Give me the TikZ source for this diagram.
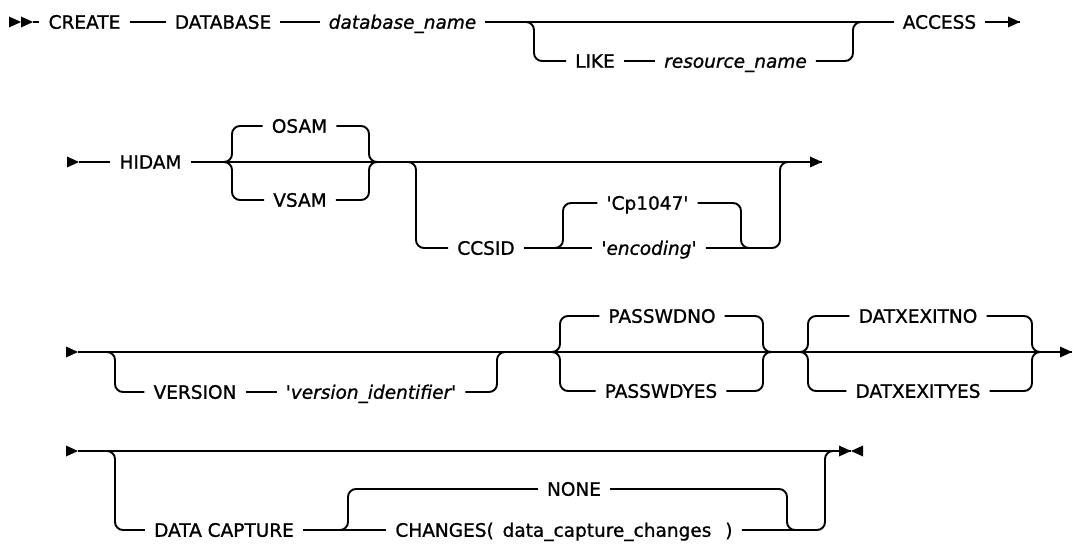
\documentclass[tikz,border=0pt]{standalone}
\usepackage{fontspec}
\newfontfamily\rrfont{DejaVu Sans}[FakeBold=1]
\newcommand\mkR[1]{\fill (#1) -- ++(-12,-5.5) -- ++(0,11) -- cycle;}
\newcommand\mkL[1]{\fill (#1) -- ++(12,-5.5) -- ++(0,11) -- cycle;}
\tikzset{
  rr/.style={line width=1.9pt},
  rc/.style={line width=1.9pt, rounded corners=8pt},
  kw/.style={inner xsep=9pt, inner ysep=0pt, text height=13.5pt, text depth=0pt,
    font=\rrfont\fontsize{18.5}{22}\selectfont},
  var/.style={kw, font=\rrfont\itshape\fontsize{18.5}{22}\selectfont},
}
\begin{document}
\begin{tikzpicture}[x=1pt,y=-1pt]
\useasboundingbox[fill=white] (0,0) rectangle (1073,545);
% ---------------- row 1
\coordinate (s1a) at (21,22);
\coordinate (s1b) at (33,22);
\coordinate (en1) at (1020,22);
\coordinate (j1L) at (526,22);
\coordinate (j1R) at (861,22);
\node[kw]  (create)   at (84.5,22)  {CREATE};
\node[kw]  (database) at (223,22)   {DATABASE};
\node[var] (dbname)   at (402.5,22) {database\_name};
\node[kw]  (like)     at (595,61)   {LIKE};
\node[var] (resname)  at (735.5,61) {resource\_name};
\node[kw]  (access)   at (939.5,22) {ACCESS};
\mkR{s1a}\mkR{s1b}
\draw[rr] (s1b) -- (create.west);
\draw[rr] (create) -- (database);
\draw[rr] (database) -- (dbname);
\draw[rr] (dbname.east) -- (access.west);
\draw[rc] (j1L) -- ++(8,0) |- (like.west);
\draw[rr] (like) -- (resname);
\draw[rc] (j1R) -- ++(-8,0) |- (resname.east);
\draw[rr] (access.east) -- (en1);
\mkR{en1}
% ---------------- row 2
\coordinate (st2) at (79,162);
\coordinate (en2) at (822,162);
\coordinate (j2a) at (224,162);
\coordinate (j2b) at (377,162);
\coordinate (j2c) at (408,162);
\coordinate (j2d) at (555,248);
\coordinate (j2e) at (749,248);
\coordinate (j2f) at (788,162);
\node[kw]  (hidam) at (150.5,162) {HIDAM};
\node[kw]  (osam)  at (299.5,126) {OSAM};
\node[kw]  (vsam)  at (300,200)   {VSAM};
\node[kw]  (ccsid) at (486,248)   {CCSID};
\node[kw]  (cp)    at (647.5,203) {'Cp1047'};
\node[var] (enc)   at (649,248)   {'encoding'};
\mkR{st2}
\draw[rr] (st2) -- (hidam.west);
\draw[rr] (hidam.east) -- (en2);
\mkR{en2}
\draw[rc] (j2a) -- ++(8,0) |- (osam.west);
\draw[rc] (j2a) -- ++(8,0) |- (vsam.west);
\draw[rc] (j2b) -- ++(-8,0) |- (osam.east);
\draw[rc] (j2b) -- ++(-8,0) |- (vsam.east);
\draw[rc] (j2c) -- ++(8,0) |- (ccsid.west);
\draw[rr] (ccsid) -- (enc);
\draw[rc] (j2d) -- ++(8,0) |- (cp.west);
\draw[rc] (j2e) -- ++(-8,0) |- (cp.east);
\draw[rc] (j2f) -- ++(-8,0) |- (enc.east);
% ---------------- row 3
\coordinate (st3) at (78,352);
\coordinate (en3) at (1072,352);
\coordinate (j3a) at (107,352);
\coordinate (j3b) at (505,352);
\coordinate (j3c) at (552,352);
\coordinate (j3d) at (771,352);
\coordinate (j3e) at (800,352);
\coordinate (j3f) at (1040,352);
\node[kw]  (version) at (195,392) {VERSION};
\node[var] (verid)   at (371,392) {'version\_identifier'};
\node[kw]  (pno)     at (662,316) {PASSWDNO};
\node[kw]  (pyes)    at (661,391) {PASSWDYES};
\node[kw]  (dno)     at (918,316) {DATXEXITNO};
\node[kw]  (dyes)    at (918,391) {DATXEXITYES};
\mkR{st3}
\draw[rr] (st3) -- (en3);
\mkR{en3}
\draw[rc] (j3a) -- ++(8,0) |- (version.west);
\draw[rr] (version) -- (verid);
\draw[rc] (j3b) -- ++(-8,0) |- (verid.east);
\draw[rc] (j3c) -- ++(8,0) |- (pno.west);
\draw[rc] (j3c) -- ++(8,0) |- (pyes.west);
\draw[rc] (j3d) -- ++(-8,0) |- (pno.east);
\draw[rc] (j3d) -- ++(-8,0) |- (pyes.east);
\draw[rc] (j3e) -- ++(8,0) |- (dno.west);
\draw[rc] (j3e) -- ++(8,0) |- (dyes.west);
\draw[rc] (j3f) -- ++(-8,0) |- (dno.east);
\draw[rc] (j3f) -- ++(-8,0) |- (dyes.east);
% ---------------- row 4
\coordinate (st4) at (78,451);
\coordinate (en4) at (851,451);
\coordinate (j4a) at (107,451);
\coordinate (j4b) at (340,530);
\coordinate (j4c) at (795,530);
\coordinate (j4d) at (833,451);
\node[kw] (dcap)    at (224,530) {DATA CAPTURE};
\node[kw] (none)    at (574,489) {NONE};
\node[kw] (changes) at (564,530) {CHANGES(\hspace{3pt} data\_capture\_changes\hspace{14pt})};
\mkR{st4}
\draw[rr] (st4) -- (en4);
\mkR{en4}\mkL{en4}
\draw[rc] (j4a) -- ++(8,0) |- (dcap.west);
\draw[rr] (dcap) -- (changes);
\draw[rc] (j4b) -- ++(8,0) |- (none.west);
\draw[rc] (j4c) -- ++(-8,0) |- (none.east);
\draw[rc] (j4d) -- ++(-8,0) |- (changes.east);
\end{tikzpicture}
\end{document}
